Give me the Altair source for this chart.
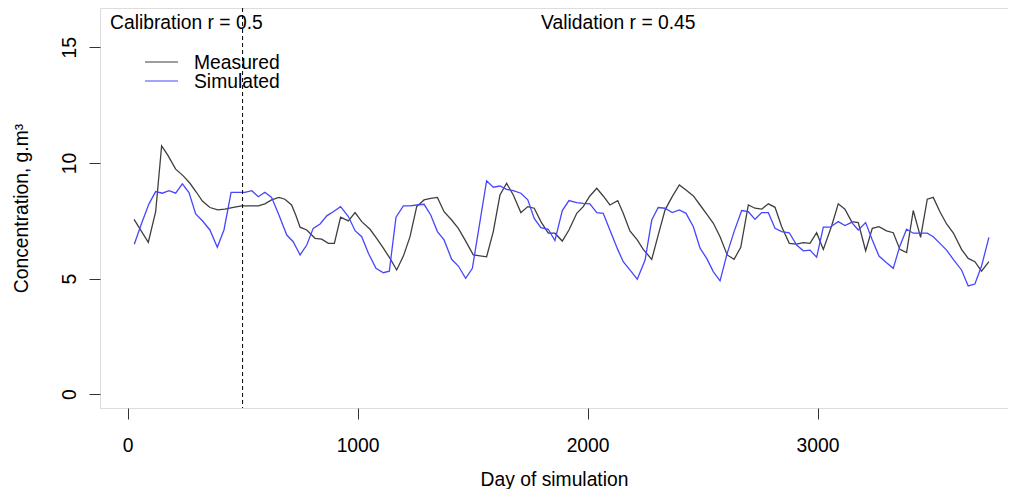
import altair as alt
import pandas as pd

meas_day = [28, 90, 122, 148, 174, 209, 242, 271, 300, 325, 358, 392, 423, 460, 496, 568, 597, 626, 658, 684,
            713, 731, 750, 779, 815, 844, 873, 899, 926, 960, 989, 1018, 1054, 1083, 1112, 1141, 1170, 1199,
            1228, 1257, 1289, 1318, 1347, 1376, 1409, 1438, 1467, 1503, 1561, 1590, 1619, 1648, 1677, 1710,
            1740, 1768, 1797, 1829, 1858, 1890, 1919, 1953, 1981, 2010, 2040, 2068, 2097, 2131, 2155, 2184,
            2216, 2242, 2279, 2307, 2337, 2368, 2399, 2428, 2460, 2489, 2518, 2547, 2576, 2607, 2637, 2666,
            2699, 2728, 2757, 2786, 2815, 2844, 2877, 2909, 2938, 2967, 2996, 3025, 3061, 3090, 3119, 3148,
            3177, 3209, 3238, 3267, 3300, 3329, 3358, 3387, 3416, 3448, 3477, 3503, 3532, 3561, 3590, 3626,
            3655, 3684, 3713, 3745]
meas_val = [7.56, 6.57, 7.89, 10.74, 10.35, 9.73, 9.44, 9.12, 8.72, 8.35, 8.07, 7.97, 8.00, 8.08, 8.14, 8.14,
            8.23, 8.40, 8.51, 8.43, 8.18, 7.75, 7.22, 7.10, 6.74, 6.70, 6.52, 6.52, 7.65, 7.49, 7.85, 7.46,
            7.13, 6.74, 6.31, 5.87, 5.37, 5.97, 6.81, 8.11, 8.40, 8.47, 8.51, 7.89, 7.53, 7.17, 6.67, 6.02,
            5.94, 7.03, 8.61, 9.12, 8.61, 7.85, 8.11, 8.04, 7.46, 6.96, 6.96, 6.62, 7.10, 7.82, 8.11, 8.57,
            8.90, 8.57, 8.18, 8.37, 7.82, 7.06, 6.67, 6.26, 5.83, 6.88, 7.97, 8.54, 9.05, 8.83, 8.57, 8.18,
            7.79, 7.39, 6.81, 6.02, 5.83, 6.35, 8.18, 8.04, 8.00, 8.23, 8.08, 7.24, 6.52, 6.49, 6.55, 6.52,
            6.98, 6.26, 7.27, 8.23, 8.00, 7.46, 7.42, 6.20, 7.17, 7.24, 7.06, 6.98, 6.26, 6.12, 7.94, 6.78,
            8.43, 8.51, 7.89, 7.36, 6.98, 6.26, 5.87, 5.73, 5.32, 5.73]

sim_day = [29, 61, 93, 122, 151, 180, 209, 238, 267, 296, 325, 358, 390, 419, 450, 481, 510, 540, 568, 597,
           626, 658, 692, 720, 750, 779, 807, 837, 866, 894, 926, 960, 989, 1018, 1047, 1080, 1112, 1138,
           1167, 1199, 1228, 1257, 1289, 1318, 1347, 1376, 1409, 1438, 1470, 1499, 1561, 1590, 1619, 1648,
           1677, 1710, 1740, 1768, 1797, 1829, 1858, 1890, 1919, 1953, 1981, 2010, 2040, 2068, 2097, 2131,
           2155, 2184, 2216, 2250, 2279, 2307, 2337, 2368, 2399, 2428, 2460, 2489, 2518, 2547, 2576, 2607,
           2637, 2670, 2699, 2728, 2757, 2786, 2815, 2844, 2877, 2909, 2938, 2967, 2996, 3025, 3054, 3090,
           3119, 3148, 3177, 3209, 3238, 3267, 3300, 3329, 3358, 3387, 3416, 3448, 3477, 3503, 3532, 3561,
           3590, 3626, 3655, 3684, 3713, 3745]
sim_val = [6.48, 7.39, 8.23, 8.76, 8.69, 8.80, 8.69, 9.09, 8.72, 7.79, 7.50, 7.10, 6.35, 7.10, 8.73, 8.73,
           8.73, 8.80, 8.54, 8.73, 8.51, 7.75, 6.88, 6.59, 6.02, 6.45, 7.17, 7.36, 7.71, 7.89, 8.11, 7.68,
           7.07, 6.81, 6.09, 5.44, 5.25, 5.32, 7.65, 8.14, 8.14, 8.18, 8.21, 7.75, 7.03, 6.67, 5.83, 5.54,
           5.01, 5.44, 9.23, 8.95, 9.00, 8.86, 8.80, 8.69, 8.40, 7.60, 7.20, 7.13, 6.64, 7.94, 8.37, 8.28,
           8.25, 8.23, 7.85, 7.82, 7.10, 6.26, 5.73, 5.37, 4.97, 5.80, 7.53, 8.07, 8.04, 7.85, 7.97, 7.82,
           7.24, 6.31, 5.87, 5.29, 4.90, 6.09, 7.03, 7.94, 7.89, 7.56, 7.85, 7.85, 7.17, 7.03, 6.98, 6.45,
           6.20, 6.23, 5.92, 7.22, 7.22, 7.46, 7.29, 7.43, 7.10, 7.42, 6.67, 5.97, 5.68, 5.44, 6.41, 7.13,
           6.96, 6.96, 6.96, 6.81, 6.52, 6.23, 5.83, 5.37, 4.68, 4.76, 5.54, 6.78]

series_names = ["Measured", "Simulated"]
series_colors = ["#3f3f3f", "#4646ff"]
x_ticks = [0, 1000, 2000, 3000]
y_ticks = [0, 5, 10, 15]
split_day = [500]
annot_text = ["Calibration r = 0.5", "Validation r = 0.45"]

FONT = "Liberation Sans"
FS = 19.3

df = pd.concat([
    pd.DataFrame({"day": meas_day, "value": meas_val, "series": series_names[0]}),
    pd.DataFrame({"day": sim_day, "value": sim_val, "series": series_names[1]}),
])

xscale = alt.Scale(domain=[-120, 3828], nice=False, zero=False)
yscale = alt.Scale(domain=[-0.6, 16.7], nice=False, zero=False)

lines = alt.Chart(df).mark_line(strokeWidth=1.3).encode(
    x=alt.X("day:Q", scale=xscale,
            axis=alt.Axis(values=x_ticks, format="d", grid=False, domain=False, tickSize=11,
                          tickColor="#333", labelFontSize=FS, labelPadding=17, labelColor="#000",
                          title="Day of simulation", titleFontSize=FS, titleFontWeight="normal",
                          titleColor="#000", titlePadding=15, labelFont=FONT, titleFont=FONT)),
    y=alt.Y("value:Q", scale=yscale,
            axis=alt.Axis(values=y_ticks, grid=False, domain=False, tickSize=11, tickColor="#333",
                          labelAngle=270, labelAlign="center", labelBaseline="bottom",
                          labelFontSize=FS, labelPadding=10, labelColor="#000",
                          title="Concentration, g.m³", titleFontSize=FS, titleFontWeight="normal",
                          titleColor="#000", titleAngle=270, titleAlign="center",
                          titleBaseline="alphabetic", titleX=-73, titleY=200,
                          labelFont=FONT, titleFont=FONT)),
    color=alt.Color("series:N", scale=alt.Scale(domain=series_names, range=series_colors), legend=None),
)

split = alt.Chart(pd.DataFrame({"day": split_day})).mark_rule(
    color="#000", strokeDash=[4, 3], strokeWidth=1
).encode(x=alt.X("day:Q", scale=xscale))

legend_lines = alt.Chart(pd.DataFrame({"series": series_names, "ly": [54, 73]})).mark_rule(
    strokeWidth=1.2
).encode(
    x=alt.value(45), x2=alt.value(78), y=alt.Y("ly:Q", scale=None),
    color=alt.Color("series:N", scale=alt.Scale(domain=series_names, range=series_colors), legend=None),
)

legend_text = alt.Chart(pd.DataFrame({"series": series_names, "ly": [55, 74]})).mark_text(
    align="left", baseline="middle", fontSize=FS, font=FONT, color="#000"
).encode(x=alt.value(94), y=alt.Y("ly:Q", scale=None), text="series:N")

annot = alt.Chart(pd.DataFrame({"t": annot_text, "ax": [10, 441]})).mark_text(
    align="left", baseline="middle", fontSize=FS, font=FONT, color="#000"
).encode(x=alt.X("ax:Q", scale=None), y=alt.value(15), text="t:N")

chart = alt.layer(lines, split, legend_lines, legend_text, annot).properties(
    width=908, height=400,
    padding={"left": 92, "top": 0, "right": 0, "bottom": 81},
    autosize="none",
).configure_view(stroke="#555555", strokeWidth=1.2).configure(font=FONT, background="white")

chart.save("out.html", embed_options={"renderer": "svg", "actions": False})
